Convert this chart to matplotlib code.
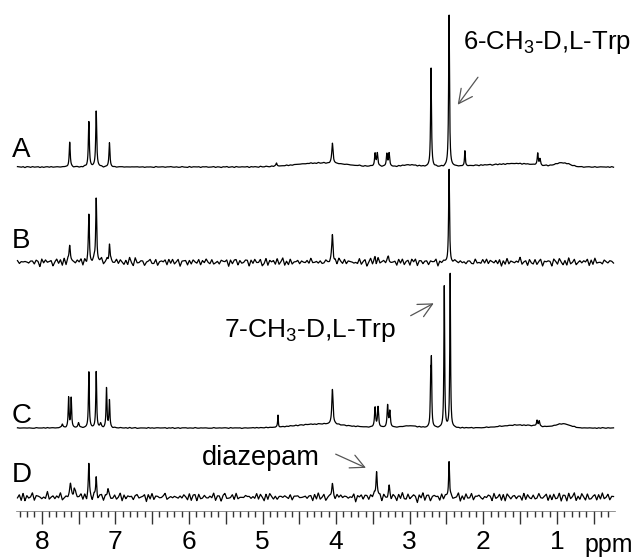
import numpy as np
import matplotlib
matplotlib.use("Agg")
import matplotlib.pyplot as plt

plt.rcParams['font.family'] = ['Liberation Sans', 'DejaVu Sans']

# peak lists: (shift ppm, height, half width ppm)
peaks_A = [(7.62, 25, 0.008), (7.36, 45, 0.008), (7.26, 56, 0.008), (7.08, 24, 0.008),
           (4.81, 3, 0.008), (4.05, 20, 0.010), (3.47, 13, 0.009), (3.44, 13, 0.009),
           (3.31, 13, 0.009), (3.28, 13, 0.009), (2.71, 100, 0.007), (2.465, 154, 0.007),
           (2.25, 15, 0.006), (1.26, 12, 0.008), (1.23, 6, 0.008)]
humps_A = [(4.2, 4, 0.35), (3.0, 2, 0.12), (2.0, 1.5, 0.3), (1.5, 3, 0.25), (0.92, 4, 0.1)]

peaks_B = [(7.62, 17, 0.010), (7.36, 46, 0.008), (7.26, 65, 0.008), (7.08, 21, 0.009),
           (4.05, 28, 0.010), (3.47, 6, 0.010), (3.29, 5, 0.010), (2.465, 92, 0.007)]
humps_B = []

peaks_C = [(7.72, 4, 0.01), (7.635, 30, 0.007), (7.60, 30, 0.007), (7.50, 5, 0.01),
           (7.36, 56, 0.007), (7.26, 56, 0.007), (7.20, 4, 0.01), (7.12, 40, 0.007),
           (7.08, 27, 0.007), (4.79, 12, 0.005), (4.05, 35, 0.010), (3.47, 20, 0.009),
           (3.43, 20, 0.009), (3.30, 22, 0.009), (3.27, 16, 0.009), (2.715, 45, 0.006),
           (2.705, 60, 0.006), (2.53, 145, 0.006), (2.45, 154, 0.006), (1.27, 6, 0.008),
           (1.24, 5, 0.008)]
humps_C = [(4.2, 4, 0.35), (3.0, 2, 0.12), (1.5, 3, 0.25), (0.92, 4, 0.1)]

peaks_D = [(7.61, 12, 0.012), (7.56, 9, 0.012), (7.36, 31, 0.008), (7.26, 20, 0.008),
           (7.10, 7, 0.010), (4.05, 13, 0.010), (3.45, 28, 0.010), (3.28, 9, 0.010),
           (2.465, 36, 0.007)]
humps_D = []

# baseline ripple (relative units)
ripple = [0.3, -0.5, 0.8, -0.2, -0.9, 0.4, 0.1, -0.6, 0.9, -0.3, 0.5, -0.8, 0.2, 0.7,
          -0.4, -0.1, 0.6, -0.7, 0.0, 0.8, -0.5, 0.3, -0.9, 0.4, 0.2, -0.3, 0.7, -0.6,
          0.1, 0.5, -0.8, 0.6, -0.2, -0.4, 0.9, -0.1, 0.3, -0.7, 0.5, 0.0, -0.5, 0.8,
          -0.3, 0.2, -0.9, 0.6, -0.1, 0.4, -0.6, 0.7, 0.1, -0.2, 0.5, -0.4, 0.8, -0.7]

labels = ['A', 'B', 'C', 'D']
offsets = [344, 249, 83, 14]
noise_amp = [0.7, 5.0, 0.6, 5.5]
label_pos = [(12, 150), (12, 241), (12, 416), (12, 475)]

ppm = np.linspace(8.33, 0.23, 4000)


def spectrum(peaks, humps, amp, shift):
    y = np.zeros_like(ppm)
    for c, h, w in peaks:
        y += h / (1 + ((ppm - c) / w) ** 2)
    for c, h, w in humps:
        y += h * np.exp(-0.5 * ((ppm - c) / w) ** 2)
    n = 320
    knots = np.linspace(ppm[-1], ppm[0], n)
    r = (np.roll(np.resize(ripple, n), shift)
         + 0.6 * np.resize(ripple[::-1][:47], n)
         + 0.4 * np.roll(np.resize(ripple[::3], n), shift * 2))
    y += amp * np.interp(ppm, knots, r) / 1.6
    return y


W, H = 643, 560
fig = plt.figure(figsize=(W / 100, H / 100), dpi=100)
ax = fig.add_axes([16 / W, 49 / H, (615 - 16) / W, 511 / H])

all_peaks = [(peaks_A, humps_A), (peaks_B, humps_B), (peaks_C, humps_C), (peaks_D, humps_D)]
for i, (pk, hm) in enumerate(all_peaks):
    y = spectrum(pk, hm, noise_amp[i], 11 * i + 5)
    ax.plot(ppm, y + offsets[i], color='black', lw=0.9)
    fig.text(label_pos[i][0] / W, 1 - label_pos[i][1] / H, labels[i], fontsize=20,
             va='center', ha='left')

ax.set_xlim(8.35, 0.21)
ax.set_ylim(0, 511)
for s in ['top', 'left', 'right']:
    ax.spines[s].set_visible(False)
ax.spines['bottom'].set_color('#666666')
ax.spines['bottom'].set_linewidth(0.5)
ax.set_yticks([])
ax.set_xticks(np.arange(8, 0.4, -0.5))
ax.set_xticklabels(['8', '', '7', '', '6', '', '5', '', '4', '', '3', '', '2', '', '1', ''])
ax.set_xticks(np.arange(8.3, 0.25, -0.1), minor=True)
ax.tick_params(axis='x', which='major', length=9, width=1.0, color='#333333',
               labelsize=19, pad=5)
ax.tick_params(axis='x', which='minor', length=4, width=1.0, color='#333333')
fig.text(584 / W, 1 - 545 / H, 'ppm', fontsize=18, va='center', ha='left')

arrow = dict(arrowstyle='->,head_length=1.0,head_width=0.5', color='#555555', lw=0.9)
ax.annotate('', xy=(2.37, 404), xytext=(2.05, 436), arrowprops=arrow)
ax.annotate('', xy=(2.64, 209), xytext=(3.02, 194), arrowprops=arrow)
ax.annotate('', xy=(3.56, 42), xytext=(4.04, 58), arrowprops=arrow)
ax.text(2.28, 469, r'6-CH$_\mathregular{3}$-D,L-Trp', fontsize=18.5, va='center', ha='left')
ax.text(5.53, 181, r'7-CH$_\mathregular{3}$-D,L-Trp', fontsize=19, va='center', ha='left')
ax.text(5.83, 53, 'diazepam', fontsize=19.5, va='center', ha='left')

fig.savefig('out.png', dpi=100)
